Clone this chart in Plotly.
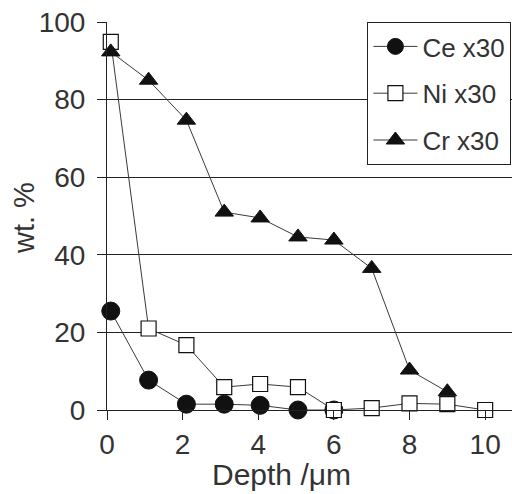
import plotly.graph_objects as go

depth = [0.1, 1.1, 2.1, 3.1, 4.05, 5.05, 6, 7, 8, 9, 10]
ce = [25.5, 7.7, 1.5, 1.5, 1.2, 0.0, 0.0, -0.4, -1.0]
ni = [94.9, 21.0, 16.7, 5.9, 6.7, 5.9, 0.0, 0.5, 1.7, 1.5, 0.0]
cr = [92.3, 85.0, 74.7, 51.0, 49.5, 44.6, 43.8, 36.5, 10.3, 4.7]

names = ["Ce x30", "Ni x30", "Cr x30"]
line_col = "#3a3a3a"
txt_col = "#333333"
FONT = "Liberation Sans, Arial, sans-serif"

fig = go.Figure()
fig.add_trace(go.Scatter(x=depth[:len(ce)], y=ce, name=names[0], mode="lines+markers",
                         legendgroup="a", cliponaxis=False,
                         line=dict(color=line_col, width=1),
                         marker=dict(symbol="circle", size=18, color="#111111",
                                     line=dict(color="#111111", width=1))))
fig.add_trace(go.Scatter(x=depth[:len(ni)], y=ni, name=names[1], mode="lines+markers",
                         legendgroup="b", cliponaxis=False,
                         line=dict(color=line_col, width=1),
                         marker=dict(symbol="square", size=15, color="white",
                                     line=dict(color="#111111", width=1.2))))
fig.add_trace(go.Scatter(x=depth[:len(cr)], y=cr, name=names[2], mode="lines+markers",
                         legendgroup="c", cliponaxis=False,
                         line=dict(color=line_col, width=1),
                         marker=dict(symbol="triangle-up", size=16, color="#111111",
                                     line=dict(color="#111111", width=1))))

fig.update_layout(
    width=512, height=494,
    margin=dict(l=107, r=0, t=22, b=84),
    paper_bgcolor="white", plot_bgcolor="white",
    font=dict(family=FONT, size=26, color=txt_col),
    showlegend=True,
    legend=dict(x=0.643, y=1, xanchor="left", yanchor="top",
                bgcolor="white", bordercolor="#222222", borderwidth=1,
                traceorder="grouped", tracegroupgap=10, itemwidth=44,
                font=dict(family=FONT, size=26, color=txt_col)),
    xaxis=dict(range=[0, 10.71], tickvals=[0, 2, 4, 6, 8, 10], showgrid=False,
               zeroline=False, showline=True, linecolor="#222222", linewidth=1,
               ticks="outside", ticklen=9, tickcolor="#222222",
               tickfont=dict(size=28, color=txt_col)),
    yaxis=dict(range=[0, 100], tickvals=[0, 20, 40, 60, 80, 100], showgrid=True,
               gridcolor="#222222", gridwidth=1, zeroline=False,
               showline=True, linecolor="#222222", linewidth=1,
               ticks="outside", ticklen=9, tickcolor="#222222",
               ticklabelstandoff=6,
               tickfont=dict(size=28, color=txt_col)),
)

fig.add_annotation(text="Depth /μm", xref="paper", yref="paper", x=(281-107)/405, y=-64/388,
                   showarrow=False, font=dict(size=30, color=txt_col), xanchor="center", yanchor="middle")
fig.add_annotation(text="wt. %", xref="paper", yref="paper", x=-83/405, y=(410-218)/388,
                   showarrow=False, textangle=-90, font=dict(size=29, color=txt_col),
                   xanchor="center", yanchor="middle")

fig.write_html("out.html")
